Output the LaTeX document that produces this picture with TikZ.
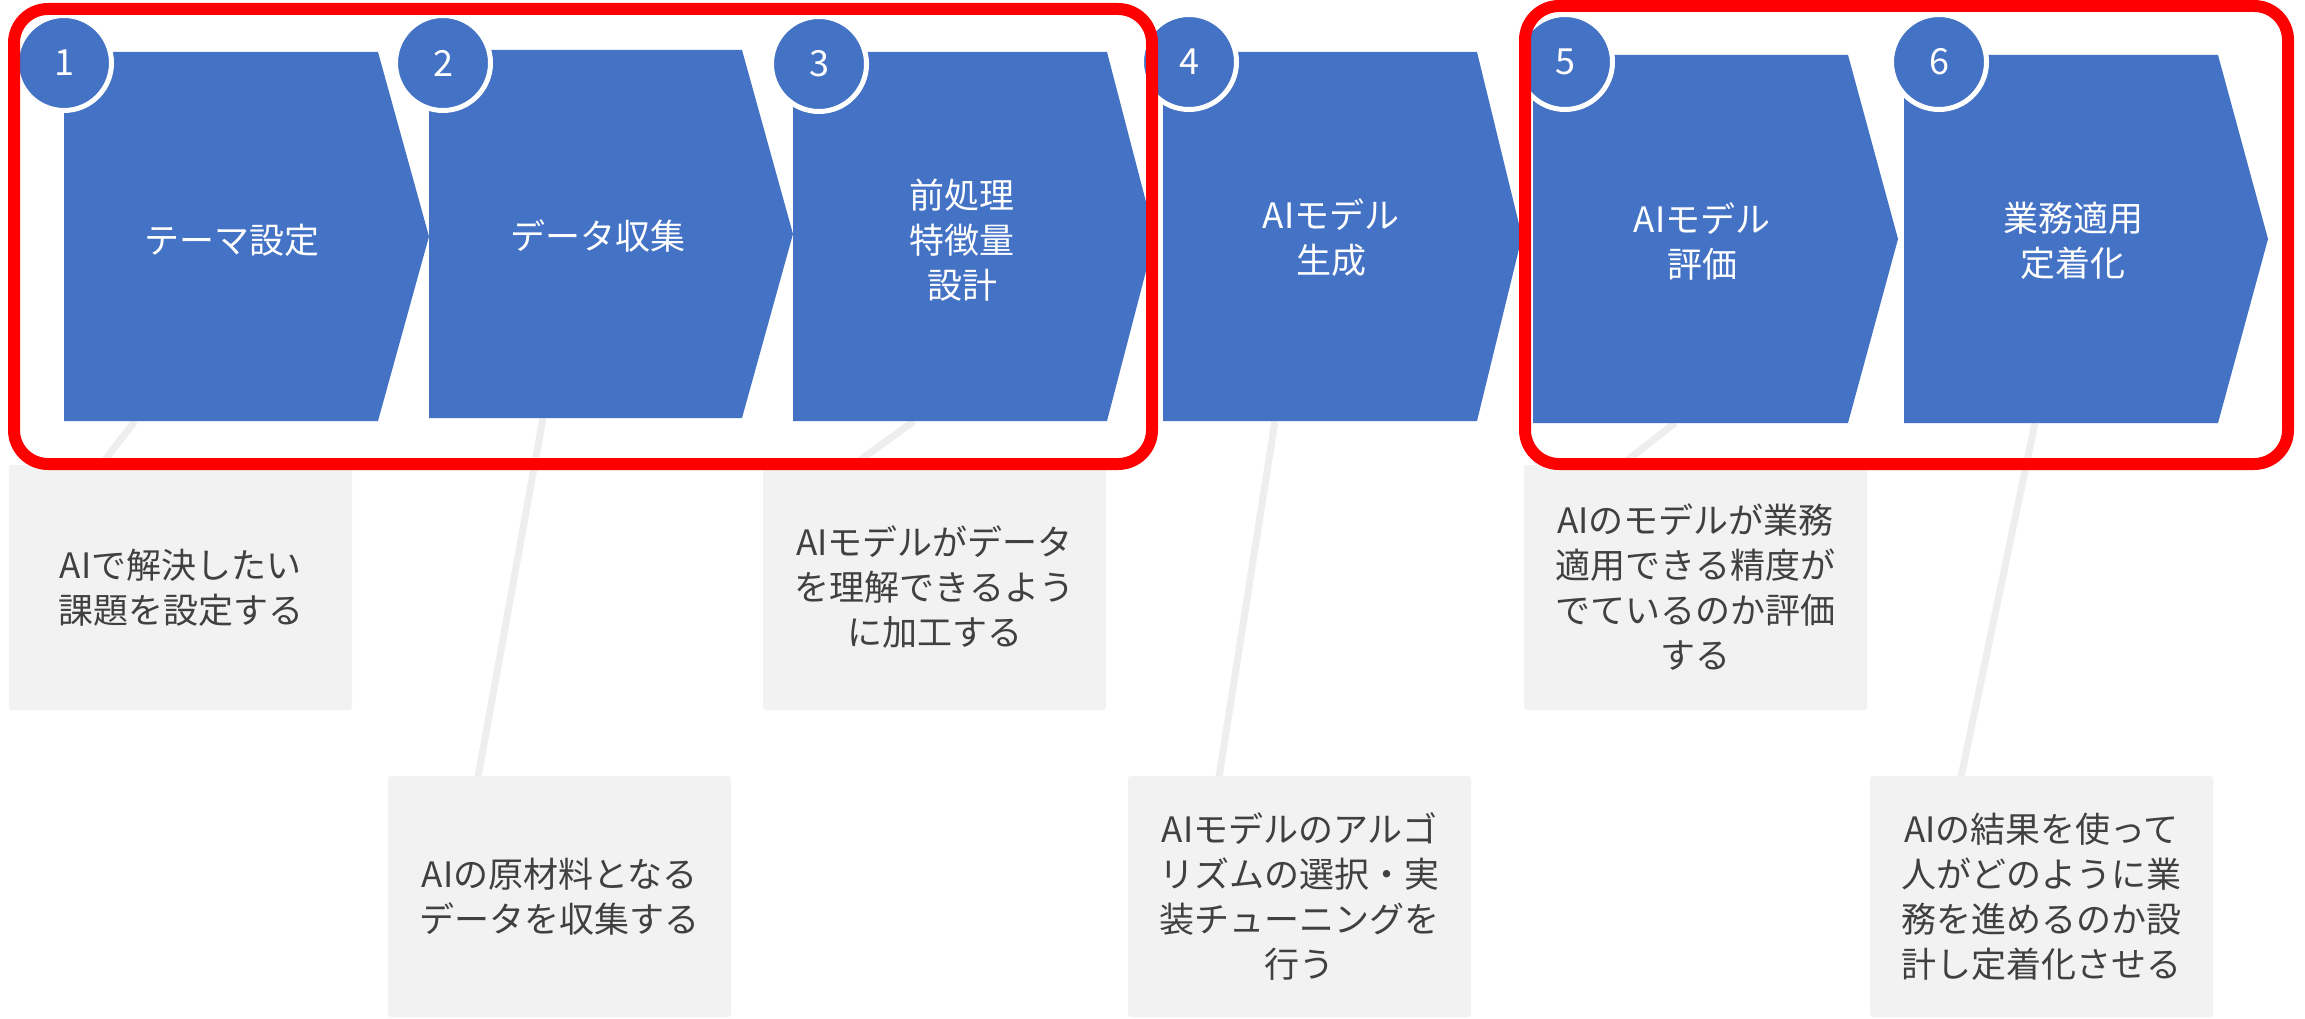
\documentclass[tikz,border=0pt]{standalone}
\usepackage{fontspec}
\setmainfont{Noto Sans CJK JP}
\definecolor{cblue}{HTML}{4472C4}
\definecolor{cgrey}{HTML}{F2F2F2}
\definecolor{ctext}{HTML}{404040}
\definecolor{cline}{HTML}{EEEEEE}
\tikzset{
  chevshape/.style={fill=cblue},
  stepnum/.style={circle, fill=cblue, draw=white, line width=5pt, minimum size=95pt, inner sep=0pt, text=white, font=\fontsize{36}{36}\selectfont},
  steptext/.style={text=white, align=center, font=\fontsize{35}{45}\selectfont},
  notebox/.style={fill=cgrey, rounded corners=3pt, minimum width=343pt, inner sep=0pt, text=ctext, align=center, font=\fontsize{35}{45}\selectfont},
  connector/.style={draw=cline, line width=7pt},
  highlight/.style={draw=red, line width=12pt, rounded corners=34pt}
}
\newcommand\chevpath[5]{% left, top, bottom, body right, tip
  \fill[chevshape] (#1,#2) -- (#4,#2) -- (#5,{(#2+#3)/2}) -- (#4,#3) -- (#1,#3) -- cycle;}
\begin{document}
\begin{tikzpicture}[x=1pt,y=-1pt]
\useasboundingbox[fill=white] (0,0) rectangle (2305,1019);

% connector end points
\coordinate (a1) at (135,421);  \coordinate (b1) at (100,466);
\coordinate (a2) at (543,418);  \coordinate (b2) at (478,777);
\coordinate (a3) at (914,421);  \coordinate (b3) at (852,466);
\coordinate (a4) at (1275,421); \coordinate (b4) at (1219,777);
\coordinate (a5) at (1675,423); \coordinate (b5) at (1620,466);
\coordinate (a6) at (2035,423); \coordinate (b6) at (1961,777);
\foreach \i in {1,...,6} \draw[connector] (a\i) -- (b\i);

% note boxes
\node[notebox, minimum height=245pt] (g1) at (180.5,587.5) {AIで解決したい\\課題を設定する};
\node[notebox, minimum height=241pt] (g2) at (559.5,896.5) {AIの原材料となる\\データを収集する};
\node[notebox, minimum height=245pt] (g3) at (934.5,587.5) {AIモデルがデータ\\を理解できるよう\\に加工する};
\node[notebox, minimum height=241pt] (g4) at (1299.5,896.5) {AIモデルのアルゴ\\リズムの選択・実\\装チューニングを\\行う};
\node[notebox, minimum height=245pt] (g5) at (1695.5,587.5) {AIのモデルが業務\\適用できる精度が\\でているのか評価\\する};
\node[notebox, minimum height=241pt] (g6) at (2041.5,896.5) {AIの結果を使って\\人がどのように業\\務を進めるのか設\\計し定着化させる};

% chevrons
\chevpath{64}{52}{421}{378}{429}
\chevpath{429}{50}{418}{742}{793}
\chevpath{793}{52}{421}{1107}{1155}
\chevpath{1163}{52}{421}{1477}{1522}
\chevpath{1533}{55}{423}{1848}{1898}
\chevpath{1904}{55}{423}{2218}{2268}

\node[steptext] (t1) at (232,240) {テーマ設定};
\node[steptext] (t2) at (598,236) {データ収集};
\node[steptext] (t3) at (962,240) {前処理\\特徴量\\設計};
\node[steptext] (t4) at (1331,238) {AIモデル\\生成};
\node[steptext] (t5) at (1702,241) {AIモデル\\評価};
\node[steptext] (t6) at (2073,241) {業務適用\\定着化};

% step numbers
\node[stepnum] (n1) at (64,63) {1};
\node[stepnum] (n2) at (443,63) {2};
\node[stepnum] (n3) at (819,64) {3};
\node[stepnum] (n4) at (1189,62) {4};
\node[stepnum] (n5) at (1565,62) {5};
\node[stepnum] (n6) at (1939,62) {6};

% highlight frames
\draw[highlight] (14,9) rectangle (1152,464);
\draw[highlight] (1525,6) rectangle (2288,464);
\end{tikzpicture}
\end{document}
